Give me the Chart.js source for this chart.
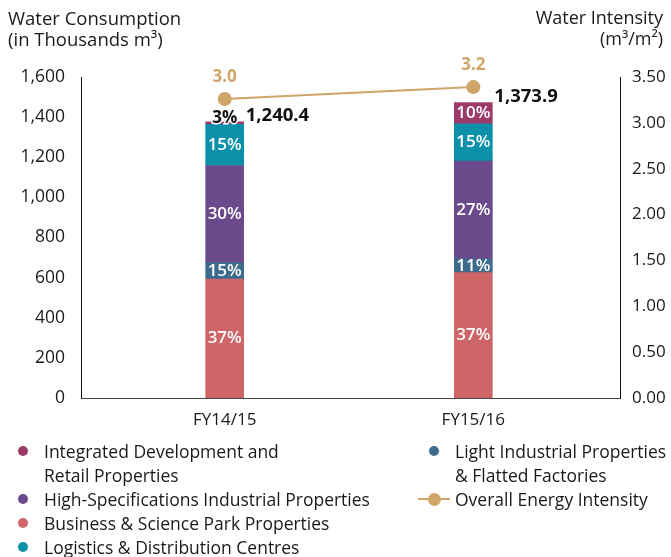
<!DOCTYPE html>
<html>
<head>
<meta charset="utf-8">
<script src="https://cdn.jsdelivr.net/npm/chart.js@4.4.1/dist/chart.umd.min.js"></script>
<style>
  html, body { margin: 0; padding: 0; background: #fff; }
  #wrap { position: relative; width: 671px; height: 557px; font-family: "Open Sans", sans-serif; color: #1a1a1a; }
  #chart { position: absolute; left: 0; top: 0; }
  .axis-title { position: absolute; top: 7px; font-size: 18.5px; line-height: 21px; }
  .legend-col { position: absolute; top: 439px; }
  .legend-item { position: relative; font-size: 17.5px; line-height: 24px; white-space: nowrap; }
  .legend-dot { position: absolute; width: 10px; height: 10px; border-radius: 50%; top: 7px; }
  .legend-line { position: absolute; width: 32px; height: 2px; top: 11px; }
  .legend-line-dot { position: absolute; width: 13px; height: 13px; border-radius: 50%; top: 5.5px; }
</style>
</head>
<body>
<div id="wrap">
  <canvas id="chart" width="671" height="557"></canvas>
  <div class="axis-title" style="left: 8px;">Water Consumption<br>(in Thousands m³)</div>
  <div class="axis-title" style="right: 8px; text-align: right; font-size: 18px;">Water Intensity<br>(m³/m²)</div>
  <div class="legend-col" id="legend-left" style="left: 44px;"></div>
  <div class="legend-col" id="legend-right" style="left: 455px;"></div>
</div>
<script>
const categories = ['FY14/15', 'FY15/16'];

// stacked segments, bottom to top (thousands m3)
const businessScience = [593, 625];
const lightIndustrial = [82, 69];
const highSpec = [484, 487];
const logistics = [205, 185];
const integratedRetail = [13, 106];

// percentage labels printed on the segments
const businessPct = ['37%', '37%'];
const lightPct = ['15%', '11%'];
const highSpecPct = ['30%', '27%'];
const logisticsPct = ['15%', '15%'];
const integratedPct = ['3%', '10%'];

const totalLabels = ['1,240.4', '1,373.9'];

const intensity = [3.26, 3.39];
const intensityLabels = ['3.0', '3.2'];

const consumptionTicks = [0, 200, 400, 600, 800, 1000, 1200, 1400, 1600];
const intensityTicks = [0, 0.5, 1, 1.5, 2, 2.5, 3, 3.5];

const COLORS = {
    business: '#CD6569',
    light: '#3E6A8C',
    highSpec: '#6B4A8B',
    logistics: '#0A90A8',
    integrated: '#9C3B68',
    intensity: '#D0A56A',
};

const FONT = '"Open Sans", sans-serif';

function points(values) {
    return values.map((v, i) => ({ x: i, y: v }));
}

function barSet(label, values, pct, color) {
    return {
        type: 'bar',
        label,
        data: points(values),
        pctLabels: pct,
        backgroundColor: color,
        borderWidth: 0,
        barThickness: 38,
        yAxisID: 'y',
        order: 1,
    };
}

const segmentLabels = {
    id: 'segmentLabels',
    afterDatasetsDraw(chart) {
        const { ctx } = chart;
        const pctFont = `600 17px ${FONT}`;
        ctx.save();
        ctx.textAlign = 'center';
        ctx.textBaseline = 'middle';
        ctx.font = pctFont;
        let topMeta = null;
        chart.data.datasets.forEach((ds, di) => {
            const meta = chart.getDatasetMeta(di);
            if (ds.pctLabels) {
                topMeta = meta;
                meta.data.forEach((bar, i) => {
                    const h = bar.base - bar.y;
                    if (h < 8) {
                        // too thin to hold its label: outlined text just above
                        const y = bar.y - 4;
                        ctx.font = `bold 17px ${FONT}`;
                        ctx.lineWidth = 3;
                        ctx.strokeStyle = '#fff';
                        ctx.strokeText(ds.pctLabels[i], bar.x, y);
                        ctx.fillStyle = '#111';
                        ctx.fillText(ds.pctLabels[i], bar.x, y);
                        ctx.font = pctFont;
                    } else {
                        ctx.fillStyle = '#fff';
                        ctx.fillText(ds.pctLabels[i], bar.x, (bar.y + bar.base) / 2);
                    }
                });
            } else {
                ctx.fillStyle = COLORS.intensity;
                ctx.font = `bold 17px ${FONT}`;
                meta.data.forEach((pt, i) => {
                    ctx.fillText(intensityLabels[i], pt.x, pt.y - 22);
                });
                ctx.font = pctFont;
            }
        });
        if (topMeta) {
            ctx.textAlign = 'left';
            ctx.fillStyle = '#111';
            ctx.font = `bold 18.5px ${FONT}`;
            topMeta.data.forEach((bar, i) => {
                ctx.fillText(totalLabels[i], bar.x + bar.width / 2 + 2, bar.y - 6);
            });
        }
        ctx.restore();
    },
};

new Chart(document.getElementById('chart'), {
    data: {
        datasets: [
            {
                type: 'line',
                label: 'Overall Energy Intensity',
                data: points(intensity),
                borderColor: COLORS.intensity,
                borderWidth: 2,
                pointRadius: 7,
                pointBackgroundColor: COLORS.intensity,
                pointBorderWidth: 0,
                yAxisID: 'y1',
                order: 0,
            },
            barSet('Business & Science Park Properties', businessScience, businessPct, COLORS.business),
            barSet('Light Industrial Properties & Flatted Factories', lightIndustrial, lightPct, COLORS.light),
            barSet('High-Specifications Industrial Properties', highSpec, highSpecPct, COLORS.highSpec),
            barSet('Logistics & Distribution Centres', logistics, logisticsPct, COLORS.logistics),
            barSet('Integrated Development and Retail Properties', integratedRetail, integratedPct, COLORS.integrated),
        ],
    },
    options: {
        responsive: false,
        animation: false,
        layout: { padding: { top: 77, left: 0, right: 0, bottom: 0 } },
        plugins: {
            legend: { display: false },
            tooltip: { enabled: false },
        },
        scales: {
            x: {
                type: 'linear',
                stacked: true,
                offset: false,
                min: -0.578,
                max: 1.59,
                grid: { display: false, drawTicks: false },
                border: { display: true, color: '#444', width: 1 },
                afterBuildTicks(scale) {
                    scale.ticks = categories.map((c, i) => ({ value: i }));
                },
                afterFit(scale) {
                    scale.height = 557 - 398;
                },
                ticks: {
                    padding: 12,
                    color: '#1a1a1a',
                    font: { family: FONT, size: 17 },
                    callback(value) {
                        return categories[value] ?? '';
                    },
                },
            },
            y: {
                position: 'left',
                stacked: true,
                min: 0,
                max: 1600,
                grid: { display: false, drawTicks: false },
                border: { display: true, color: '#111', width: 1 },
                afterBuildTicks(scale) {
                    scale.ticks = consumptionTicks.map((v) => ({ value: v }));
                },
                afterFit(scale) {
                    scale.width = 81;
                },
                ticks: {
                    padding: 16,
                    color: '#1a1a1a',
                    font: { family: FONT, size: 17.5 },
                    callback(value) {
                        return Number(value).toLocaleString('en-US');
                    },
                },
            },
            y1: {
                position: 'right',
                min: 0,
                max: 3.5,
                grid: { display: false, drawTicks: false },
                border: { display: true, color: '#111', width: 1 },
                afterBuildTicks(scale) {
                    scale.ticks = intensityTicks.map((v) => ({ value: v }));
                },
                afterFit(scale) {
                    scale.width = 51;
                },
                ticks: {
                    padding: 12,
                    color: '#1a1a1a',
                    font: { family: FONT, size: 17 },
                    callback(value) {
                        return Number(value).toFixed(2);
                    },
                },
            },
        },
    },
    plugins: [segmentLabels],
});

// legend, laid out in two columns like the source
const legendLeft = [
    { lines: ['Integrated Development and', 'Retail Properties'], color: COLORS.integrated },
    { lines: ['High-Specifications Industrial Properties'], color: COLORS.highSpec },
    { lines: ['Business & Science Park Properties'], color: COLORS.business },
    { lines: ['Logistics & Distribution Centres'], color: COLORS.logistics },
];
const legendRight = [
    { lines: ['Light Industrial Properties', '& Flatted Factories'], color: COLORS.light },
    { lines: ['Overall Energy Intensity'], color: COLORS.intensity, line: true },
];

function buildLegend(el, items) {
    items.forEach((item) => {
        const div = document.createElement('div');
        div.className = 'legend-item';
        if (item.line) {
            const ln = document.createElement('span');
            ln.className = 'legend-line';
            ln.style.left = '-37px';
            ln.style.background = item.color;
            const dot = document.createElement('span');
            dot.className = 'legend-line-dot';
            dot.style.left = '-27.5px';
            dot.style.background = item.color;
            div.appendChild(ln);
            div.appendChild(dot);
        } else {
            const dot = document.createElement('span');
            dot.className = 'legend-dot';
            dot.style.left = '-26px';
            dot.style.background = item.color;
            div.appendChild(dot);
        }
        item.lines.forEach((line, i) => {
            if (i > 0) div.appendChild(document.createElement('br'));
            div.appendChild(document.createTextNode(line));
        });
        el.appendChild(div);
    });
}

buildLegend(document.getElementById('legend-left'), legendLeft);
buildLegend(document.getElementById('legend-right'), legendRight);
</script>
</body>
</html>
